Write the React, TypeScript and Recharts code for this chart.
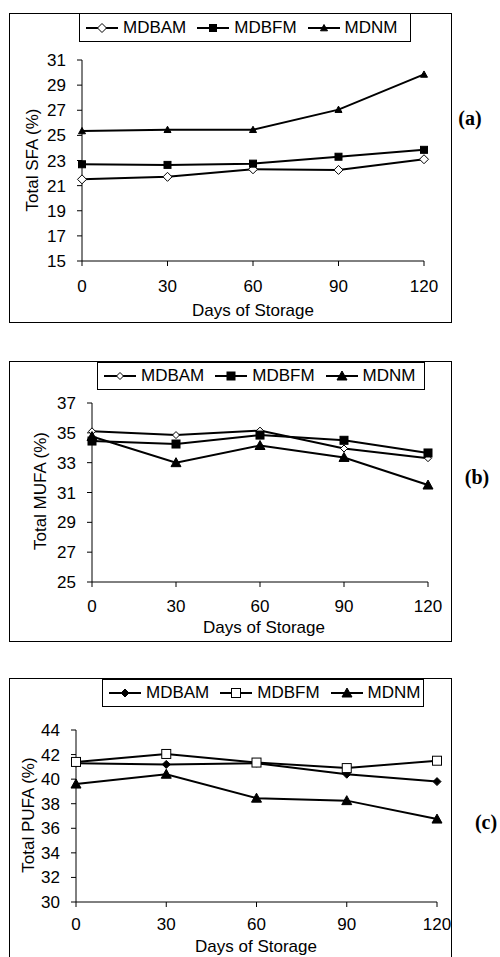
import React from 'react';
import { LineChart, Line, XAxis, YAxis } from 'recharts';

// storage time (days)
const days = [0, 30, 60, 90, 120];

// (a) total SFA %
const sfaMdbam = [21.5, 21.7, 22.3, 22.25, 23.1];
const sfaMdbfm = [22.7, 22.65, 22.75, 23.3, 23.85];
const sfaMdnm = [25.35, 25.45, 25.45, 27.05, 29.85];
const sfaTicks = [15, 17, 19, 21, 23, 25, 27, 29, 31];

// (b) total MUFA %
const mufaMdbam = [35.1, 34.85, 35.15, 33.95, 33.3];
const mufaMdbfm = [34.45, 34.25, 34.85, 34.5, 33.65];
const mufaMdnm = [34.75, 33.0, 34.15, 33.35, 31.5];
const mufaTicks = [25, 27, 29, 31, 33, 35, 37];

// (c) total PUFA %
const pufaMdbam = [41.3, 41.2, 41.3, 40.4, 39.8];
const pufaMdbfm = [41.4, 42.05, 41.35, 40.9, 41.5];
const pufaMdnm = [39.6, 40.4, 38.45, 38.25, 36.75];
const pufaTicks = [30, 32, 34, 36, 38, 40, 42, 44];

type Shape = 'diamond' | 'square' | 'triangle';
interface Marker { shape: Shape; filled: boolean; size: number }
interface Series { name: string; values: number[]; marker: Marker }

const FONT = '"Liberation Sans", Arial, sans-serif';

const drawMarker = (m: Marker, cx: number, cy: number, key?: React.Key) => {
  const r = m.size / 2;
  const fill = m.filled ? '#000' : '#fff';
  if (m.shape === 'diamond') {
    return (
      <polygon key={key} points={`${cx},${cy - r} ${cx + r},${cy} ${cx},${cy + r} ${cx - r},${cy}`}
        fill={fill} stroke="#000" strokeWidth={1} />
    );
  }
  if (m.shape === 'square') {
    return <rect key={key} x={cx - r} y={cy - r} width={m.size} height={m.size} fill={fill} stroke="#000" strokeWidth={1} />;
  }
  return (
    <polygon key={key} points={`${cx},${cy - r} ${cx + r},${cy + r * 0.8} ${cx - r},${cy + r * 0.8}`}
      fill={fill} stroke="#000" strokeWidth={1} />
  );
};

interface PanelProps {
  box: { left: number; top: number; width: number; height: number };
  plot: { x1: number; x2: number; y1: number; y2: number };
  legend: { left: number; top: number; width: number; height: number };
  yTitle: string;
  yTitlePos: [number, number];
  xTitlePos: [number, number];
  xTickGap: number;
  tag: string;
  tagPos: [number, number];
  yDomain: [number, number];
  yTicks: number[];
  series: Series[];
}

const Panel: React.FC<PanelProps> = (p) => {
  const rows = days.map((d, i) => {
    const row: Record<string, number> = { day: d };
    p.series.forEach(s => { row[s.name] = s.values[i]; });
    return row;
  });
  const chartH = p.box.height;
  return (
    <>
      <div style={{ position: 'absolute', left: p.box.left, top: p.box.top, width: p.box.width, height: p.box.height, border: '1px solid #000', boxSizing: 'border-box' }} />
      <div style={{ position: 'absolute', left: 0, top: p.box.top }}>
        <LineChart width={500} height={chartH} data={rows}
          margin={{ top: p.plot.y1 - p.box.top, bottom: p.box.top + chartH - p.plot.y2 - 1, left: p.plot.x1 - 1, right: 500 - p.plot.x2 }}>
          <XAxis dataKey="day" type="number" domain={[0, 120]} ticks={days} height={1}
            axisLine={{ stroke: '#000' }} tickLine={{ stroke: '#000' }} tickSize={5} tickMargin={p.xTickGap}
            tick={{ fill: '#000', fontSize: 17 }} interval={0} />
          <YAxis type="number" domain={p.yDomain} ticks={p.yTicks} width={1} interval={0}
            axisLine={{ stroke: '#000' }} tickLine={{ stroke: '#000' }} tickSize={5} tickMargin={11}
            tick={{ fill: '#000', fontSize: 17 }} />
          {p.series.map(s => (
            <Line key={s.name} dataKey={s.name} stroke="#000" strokeWidth={2} isAnimationActive={false}
              activeDot={false}
              dot={(d: any) => drawMarker(s.marker, d.cx, d.cy, `${s.name}-${d.index}`)} />
          ))}
        </LineChart>
      </div>
      <div style={{ position: 'absolute', left: p.legend.left, top: p.legend.top, width: p.legend.width, height: p.legend.height, border: '1px solid #000', boxSizing: 'border-box', background: '#fff', display: 'flex', alignItems: 'center', paddingLeft: 6 }}>
        {p.series.map(s => (
          <div key={s.name} style={{ display: 'flex', alignItems: 'center', marginRight: 11 }}>
            <svg width={32} height={14} style={{ marginRight: 5 }}>
              <line x1={0} y1={7} x2={32} y2={7} stroke="#000" strokeWidth={2} />
              {drawMarker(s.marker, 16, 7)}
            </svg>
            <span style={{ fontSize: 17, lineHeight: '18px' }}>{s.name}</span>
          </div>
        ))}
      </div>
      <div style={{ position: 'absolute', left: p.yTitlePos[0], top: p.yTitlePos[1], transform: 'translate(-50%, -50%) rotate(-90deg)', whiteSpace: 'nowrap', fontSize: 17, lineHeight: 1 }}>
        {p.yTitle}
      </div>
      <div style={{ position: 'absolute', left: p.xTitlePos[0], top: p.xTitlePos[1], transform: 'translate(-50%, -50%)', whiteSpace: 'nowrap', fontSize: 17, lineHeight: 1 }}>
        Days of Storage
      </div>
      <div style={{ position: 'absolute', left: p.tagPos[0], top: p.tagPos[1], transform: 'translate(-50%, -50%)', fontFamily: '"Liberation Serif", "Times New Roman", serif', fontWeight: 'bold', fontSize: 20, lineHeight: 1 }}>
        {p.tag}
      </div>
    </>
  );
};

export default function App() {
  return (
    <div style={{ position: 'absolute', left: 0, top: 0, width: 500, height: 957, overflow: 'hidden', background: '#fff', fontFamily: FONT, color: '#000' }}>
      <Panel
        box={{ left: 9, top: 13, width: 443, height: 310 }}
        plot={{ x1: 82, x2: 424, y1: 60, y2: 261 }}
        legend={{ left: 79, top: 13, width: 332, height: 29 }}
        yTitle="Total SFA (%)" yTitlePos={[32, 160]} xTitlePos={[253, 310]} xTickGap={14}
        tag="(a)" tagPos={[470, 118]}
        yDomain={[15, 31]} yTicks={sfaTicks}
        series={[
          { name: 'MDBAM', values: sfaMdbam, marker: { shape: 'diamond', filled: false, size: 9 } },
          { name: 'MDBFM', values: sfaMdbfm, marker: { shape: 'square', filled: true, size: 7 } },
          { name: 'MDNM', values: sfaMdnm, marker: { shape: 'triangle', filled: true, size: 7 } },
        ]}
      />
      <Panel
        box={{ left: 9, top: 361, width: 443, height: 281 }}
        plot={{ x1: 92, x2: 428, y1: 403, y2: 582 }}
        legend={{ left: 97, top: 362, width: 328, height: 28 }}
        yTitle="Total MUFA (%)" yTitlePos={[40, 491]} xTitlePos={[264, 627]} xTickGap={13}
        tag="(b)" tagPos={[477, 477]}
        yDomain={[25, 37]} yTicks={mufaTicks}
        series={[
          { name: 'MDBAM', values: mufaMdbam, marker: { shape: 'diamond', filled: false, size: 7 } },
          { name: 'MDBFM', values: mufaMdbfm, marker: { shape: 'square', filled: true, size: 8 } },
          { name: 'MDNM', values: mufaMdnm, marker: { shape: 'triangle', filled: true, size: 10 } },
        ]}
      />
      <Panel
        box={{ left: 9, top: 678, width: 443, height: 300 }}
        plot={{ x1: 76, x2: 437, y1: 730, y2: 902 }}
        legend={{ left: 102, top: 679, width: 322, height: 28 }}
        yTitle="Total PUFA (%)" yTitlePos={[28, 815]} xTitlePos={[256, 946]} xTickGap={11}
        tag="(c)" tagPos={[486, 822]}
        yDomain={[30, 44]} yTicks={pufaTicks}
        series={[
          { name: 'MDBAM', values: pufaMdbam, marker: { shape: 'diamond', filled: true, size: 8 } },
          { name: 'MDBFM', values: pufaMdbfm, marker: { shape: 'square', filled: false, size: 9 } },
          { name: 'MDNM', values: pufaMdnm, marker: { shape: 'triangle', filled: true, size: 10 } },
        ]}
      />
    </div>
  );
}
